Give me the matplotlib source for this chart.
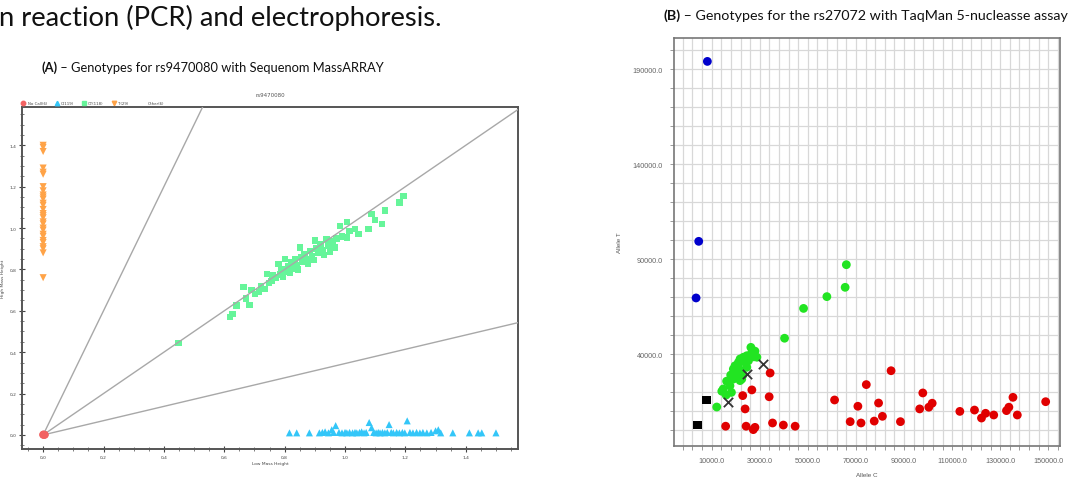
import numpy as np
import matplotlib
matplotlib.use("Agg")
import matplotlib.pyplot as plt
from matplotlib.ticker import FixedLocator, MultipleLocator, FuncFormatter

# ---------------- data: panel A (Sequenom MassARRAY, rs9470080) ----------------
nocall_x = [0.000, 0.005, 0.002, 0.000, 0.006, 0.003]
nocall_y = [0.000, 0.000, 0.003, 0.002, 0.001, 0.000]

t_x = [0.0] * 29
t_y = [1.40, 1.39, 1.37, 1.29, 1.27, 1.26, 1.20, 1.18, 1.16, 1.15, 1.14, 1.12, 1.11,
       1.09, 1.07, 1.06, 1.05, 1.03, 1.02, 1.00, 0.99, 0.97, 0.96, 0.94, 0.93, 0.91,
       0.90, 0.88, 0.76]

ct_x = [0.448, 0.619, 0.627, 0.641, 0.683, 0.663, 0.672, 0.702, 0.690, 0.715, 0.735,
        0.722, 0.741, 0.748, 0.757, 0.760, 0.770, 0.779, 0.785, 0.790, 0.795, 0.801,
        0.805, 0.812, 0.818, 0.822, 0.828, 0.835, 0.840, 0.845, 0.851, 0.856, 0.860,
        0.866, 0.872, 0.878, 0.884, 0.890, 0.896, 0.901, 0.905, 0.912, 0.918, 0.925,
        0.931, 0.939, 0.945, 0.950, 0.958, 0.965, 0.972, 0.983, 0.990, 1.006, 1.006,
        1.015, 1.033, 1.045, 1.077, 1.088, 1.100, 1.122, 1.132, 1.180, 1.193]
ct_y = [0.444, 0.569, 0.585, 0.625, 0.628, 0.714, 0.660, 0.681, 0.700, 0.690, 0.705,
        0.720, 0.778, 0.735, 0.745, 0.770, 0.760, 0.826, 0.775, 0.800, 0.765, 0.850,
        0.790, 0.815, 0.786, 0.835, 0.805, 0.850, 0.820, 0.800, 0.907, 0.860, 0.835,
        0.875, 0.850, 0.826, 0.890, 0.865, 0.845, 0.939, 0.900, 0.880, 0.920, 0.895,
        0.870, 0.947, 0.915, 0.883, 0.935, 0.905, 0.950, 1.011, 0.960, 1.028, 0.955,
        0.985, 0.995, 0.970, 0.995, 1.068, 1.040, 1.019, 1.084, 1.124, 1.156]

c_x = [0.816, 0.840, 0.882, 0.915, 0.925, 0.934, 0.945, 0.956, 0.962, 0.969, 0.980,
       0.990, 1.000, 1.006, 1.015, 1.025, 1.033, 1.039, 1.048, 1.055, 1.063, 1.070,
       1.080, 1.088, 1.095, 1.103, 1.110, 1.116, 1.124, 1.132, 1.140, 1.146, 1.153,
       1.160, 1.171, 1.180, 1.190, 1.198, 1.206, 1.215, 1.225, 1.237, 1.248, 1.258,
       1.271, 1.285, 1.300, 1.309, 1.317, 1.357, 1.412, 1.441, 1.453, 1.500]
c_y = [0.010, 0.010, 0.010, 0.010, 0.012, 0.015, 0.010, 0.025, 0.012, 0.045, 0.012,
       0.010, 0.012, 0.010, 0.012, 0.010, 0.012, 0.010, 0.012, 0.015, 0.010, 0.012,
       0.060, 0.035, 0.012, 0.010, 0.012, 0.010, 0.012, 0.010, 0.012, 0.050, 0.012,
       0.010, 0.012, 0.010, 0.012, 0.010, 0.068, 0.012, 0.010, 0.012, 0.010, 0.012,
       0.010, 0.012, 0.020, 0.025, 0.010, 0.010, 0.010, 0.010, 0.010, 0.010]

cluster_slopes = [3.0, 1.0, 0.345]
legend_a_labels = ["No Call(6)", "C(119)", "CT(118)", "T(29)", "Other(6)"]
a_ticks = [0.0, 0.2, 0.4, 0.6, 0.8, 1.0, 1.2, 1.4]

# ---------------- data: panel B (TaqMan, rs27072) ----------------
tt_x = [8200, 4600, 3500]
tt_y = [194000, 99300, 69500]

ntc_x = [7900, 4200]
ntc_y = [15800, 2600]

und_x = [16900, 24600, 31300]
und_y = [14600, 29500, 34700]

ct2_x = [66000, 65500, 57900, 48200, 40300, 26300,
         12100, 14200, 14800, 16000, 18200, 16200, 17600, 17900, 19000, 19000, 19000,
         19700, 20400, 21100, 21100, 21800, 21800, 22500, 23200, 23900, 24600, 24600,
         25300, 26700, 26700, 27500, 28800, 28000, 22500, 20000, 23000, 25500]
ct2_y = [87000, 75100, 70200, 64000, 48300, 43500,
         12100, 20400, 21600, 18400, 19800, 25700, 23300, 28900, 32100, 29500, 26800,
         33800, 28600, 35600, 33000, 37400, 26000, 26800, 38300, 35600, 39100, 33000,
         36500, 40900, 40000, 38500, 38300, 41500, 31000, 30500, 29000, 38000]

cc_x = [34300, 26700, 22900, 33900, 23900, 15800, 24300, 27300, 28000, 35300, 39800,
        44700, 61100, 70800, 67600, 72100, 74300, 79400, 77600, 81000, 84600, 88500,
        96500, 97800, 100300, 101700, 113200, 119300, 122200, 123900, 127300, 132600,
        133600, 135300, 137100, 148900]
cc_y = [30000, 21100, 18100, 17500, 11100, 2000, 2000, 200, 1400, 3700, 2600,
        2000, 15800, 12500, 4400, 3700, 23900, 14200, 4700, 7200, 31200, 4400,
        11100, 19500, 12000, 14100, 9800, 10500, 6300, 8800, 7900, 10200,
        12000, 17200, 7900, 14900]

b_xticks = [10000, 30000, 50000, 70000, 90000, 110000, 130000, 150000]
b_yticks = [40000, 90000, 140000, 190000]

# ---------------- figure ----------------
W, H = 1076, 481
fig = plt.figure(figsize=(W / 100, H / 100), dpi=100)
fig.patch.set_facecolor("white")
renderer = fig.canvas.get_renderer()


def fx(px):
    return px / W


def fy(py):
    return 1 - py / H


def fit_text(x0, x1, ybase, parts, family="Lato", size=10):
    """parts: list of (text, weight). Scale so total width = x1-x0."""
    objs = []
    for s, wgt in parts:
        objs.append(fig.text(0, fy(ybase), s, fontsize=size, fontweight=wgt,
                             family=family, va="baseline", ha="left", color="#111111"))
    widths = [o.get_window_extent(renderer).width for o in objs]
    scale = (x1 - x0) / sum(widths)
    x = x0
    for o, w in zip(objs, widths):
        o.set_fontsize(size * scale)
        o.set_x(fx(x))
        x += w * scale
    return objs


fit_text(-1, 441, 26, [("n reaction (PCR) and electrophoresis.", "normal")], size=18)
fit_text(41.5, 384, 72, [("(A)", "bold"),
                          (" \u2013 Genotypes for rs9470080 with Sequenom MassARRAY", "normal")])
fit_text(663, 1070, 20, [("(B)", "bold"),
                          (" \u2013 Genotypes for the rs27072 with TaqMan 5-nucleasse assay", "normal")])

# ---------------- panel A ----------------
axA = fig.add_axes([fx(22), fy(450), fx(518) - fx(22), fy(108) - fy(450)])
xa0, xa1 = -0.07, 1.573
axA.set_xlim(xa0, xa1)
axA.set_ylim(-0.068, 1.585)
for sl in cluster_slopes:
    axA.plot([0, xa1 + 0.5], [0, sl * (xa1 + 0.5)], color="#a8a8a8", lw=1.0, zorder=3)
axA.scatter(ct_x, ct_y, marker="s", s=22, color="#66f59a", edgecolors="none", zorder=2)
axA.scatter(c_x, c_y, marker="^", s=26, color="#33c6f8", edgecolors="none", zorder=2)
axA.scatter(t_x, t_y, marker="v", s=26, color="#ffa347", edgecolors="none", zorder=2)
axA.scatter(nocall_x, nocall_y, marker="o", s=30, color="#f26262", edgecolors="none", zorder=4)
axA.set_xlim(xa0, xa1)
axA.set_ylim(-0.068, 1.585)

comma = FuncFormatter(lambda v, p: f"{v:.1f}".replace(".", ","))
for axis in (axA.xaxis, axA.yaxis):
    axis.set_major_locator(FixedLocator(a_ticks))
    axis.set_minor_locator(MultipleLocator(0.05))
    axis.set_major_formatter(comma)
axA.tick_params(which="major", direction="inout", length=5, width=0.8, colors="#444444",
                labelsize=3.2, pad=1.5)
axA.tick_params(which="minor", direction="inout", length=3, width=0.6, color="#666666")
for sp in axA.spines.values():
    sp.set_color("#555555")
    sp.set_linewidth(1.4)
axA.set_xlabel("Low Mass Height", fontsize=3.2, color="#444444", labelpad=2)
axA.set_ylabel("High Mass Height", fontsize=3.2, color="#444444", labelpad=3)
axA.set_title("rs9470080", fontsize=4, color="#555555", pad=8)

# legend row above panel A
leg_y = 104
leg_items = [(23.3, "o", "#f26262", 28), (56.7, "^", "#33c6f8", 60.5),
             (84.0, "s", "#66f59a", 88), (114.0, "v", "#ffa347", 118), (None, None, None, 148)]
for (mx, mk, col, tx), lab in zip(leg_items, legend_a_labels):
    if mx is not None:
        fig.lines.append(plt.Line2D([fx(mx)], [fy(leg_y)], marker=mk, ms=3.2, color=col,
                                    ls="none", transform=fig.transFigure))
    fig.text(fx(tx), fy(leg_y), lab, fontsize=2.8, color="#444444", va="center", ha="left")

# ---------------- panel B ----------------
axB = fig.add_axes([fx(674), fy(446.7), fx(1060) - fx(674), fy(39.3) - fy(446.7)])
axB.set_xlim(-5680, 154860)
axB.set_ylim(-8260, 206160)
axB.xaxis.set_major_locator(FixedLocator(b_xticks))
axB.xaxis.set_minor_locator(MultipleLocator(4000, offset=2000))
axB.yaxis.set_major_locator(FixedLocator(b_yticks))
axB.yaxis.set_minor_locator(MultipleLocator(10000))
axB.xaxis.set_major_formatter(FuncFormatter(lambda v, p: f"{v:.1f}"))
axB.yaxis.set_major_formatter(FuncFormatter(lambda v, p: f"{v:.1f}"))
axB.grid(True, which="both", color="#d8d8d8", lw=0.9)
axB.set_axisbelow(True)
axB.tick_params(which="both", direction="out", length=3, width=0.7, color="#9a9a9a",
                labelsize=5.2, labelcolor="#666666", pad=5)
for lab in axB.get_xticklabels() + axB.get_yticklabels():
    lab.set_family("Liberation Sans")
for sp in axB.spines.values():
    sp.set_color("#777777")
    sp.set_linewidth(1.2)

axB.scatter(cc_x, cc_y, marker="o", s=40, color="#e00000", edgecolors="none", zorder=3)
axB.scatter(ct2_x, ct2_y, marker="o", s=40, color="#22e422", edgecolors="none", zorder=3)
axB.scatter(tt_x, tt_y, marker="o", s=40, color="#0000cc", edgecolors="none", zorder=3)
axB.scatter(ntc_x, ntc_y, marker="s", s=38, color="#000000", edgecolors="none", zorder=3)
axB.scatter(und_x, und_y, marker="x", s=45, color="#333333", linewidths=1.3, zorder=4)
axB.set_xlabel("Allele C", fontsize=4.5, color="#555555", family="Liberation Sans", labelpad=6)
axB.set_ylabel("Allele T", fontsize=4.5, color="#555555", family="Liberation Sans", labelpad=8)

fig.savefig("out.png", dpi=100, facecolor="white")
